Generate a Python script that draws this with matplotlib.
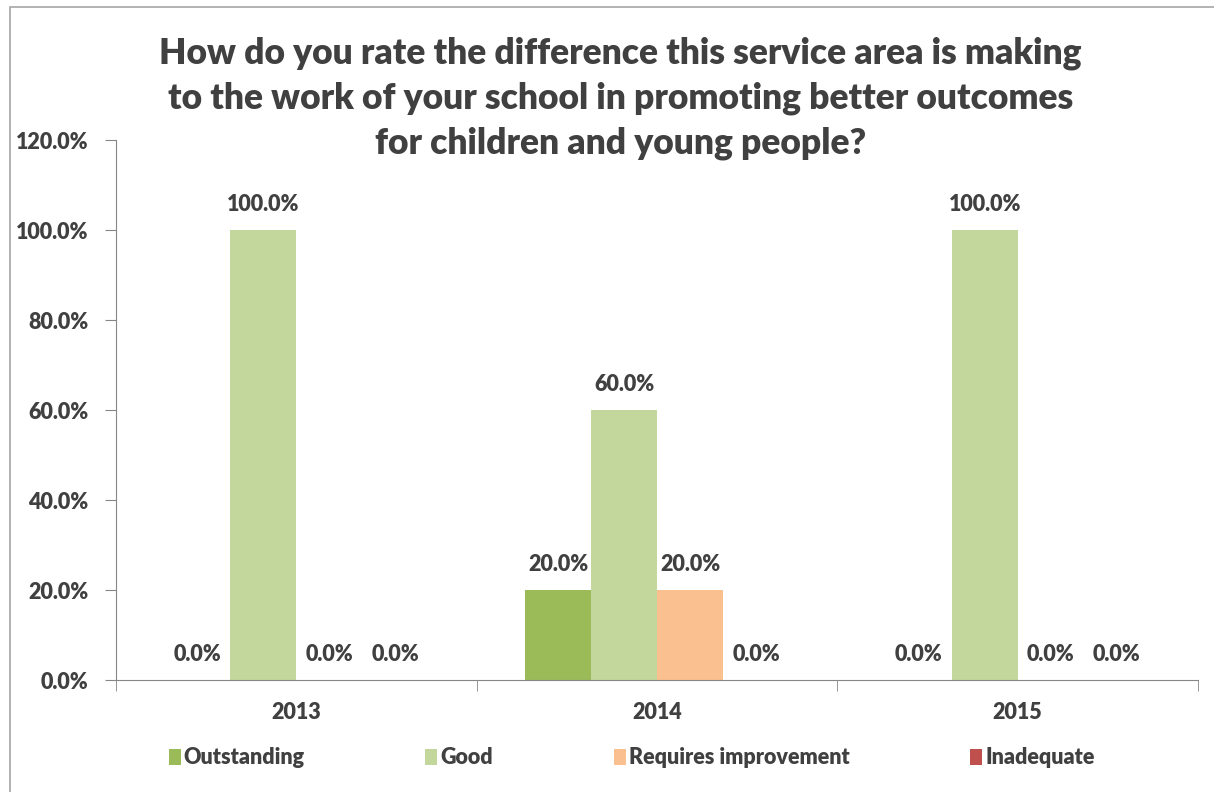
import numpy as np
import matplotlib.pyplot as plt
from matplotlib.patches import Patch, Rectangle

# survey results per year, share of responses
years = ["2013", "2014", "2015"]
ratings = ["Outstanding", "Good", "Requires improvement", "Inadequate"]
outstanding = [0.0, 20.0, 0.0]
good = [100.0, 60.0, 100.0]
requires_improvement = [0.0, 20.0, 0.0]
inadequate = [0.0, 0.0, 0.0]
series = [outstanding, good, requires_improvement, inadequate]
colors = ["#9BBB59", "#C3D69B", "#FAC090", "#C0504D"]

title = ("How do you rate the difference this service area is making\n"
         "to the work of your school in promoting better outcomes\n"
         "for children and young people?")

txt = "#404040"
axis_gray = "#868686"
fs = 15.5
plt.rcParams['font.family'] = ['Lato', 'DejaVu Sans']
plt.rcParams['font.weight'] = 'bold'

fig = plt.figure(figsize=(12.14, 7.92), dpi=100)
ax = fig.add_axes([0.0956, 0.1414, 0.8912, 0.6818])

# chart frame
fig.patches.append(Rectangle((10 / 1214, -0.01), 1.05, 1 - 7 / 792 + 0.01,
                             transform=fig.transFigure, fill=False,
                             edgecolor="#A6A6A6", linewidth=1.2))

x = np.arange(len(years))
width = 0.183
offsets = (np.arange(len(series)) - 1.5) * width
for vals, col, off in zip(series, colors, offsets):
    bars = ax.bar(x + off, vals, width, color=col)
    for b, v in zip(bars, vals):
        ax.annotate(f"{v:.1f}%", (b.get_x() + b.get_width() / 2, v),
                    xytext=(0, 15), textcoords="offset pixels",
                    ha="center", va="bottom", fontsize=fs,
                    fontweight="heavy", color=txt)

ax.set_xlim(-0.5, len(years) - 0.5)
ax.set_ylim(0, 120)
ax.set_yticks(np.arange(0, 121, 20))
ax.set_yticklabels([f"{v:.1f}%" for v in np.arange(0, 121, 20)])
ax.set_xticks(x)
ax.set_xticklabels(years)
ax.set_xticks(np.arange(-0.5, len(years), 1), minor=True)
ax.tick_params(axis="x", which="major", length=0, pad=16,
               labelsize=fs, labelcolor=txt)
ax.tick_params(axis="x", which="minor", length=8, color=axis_gray)
ax.tick_params(axis="y", length=8, color=axis_gray, pad=12,
               labelsize=fs, labelcolor=txt)
for lbl in ax.get_xticklabels() + ax.get_yticklabels():
    lbl.set_fontweight("heavy")

for s in ["top", "right"]:
    ax.spines[s].set_visible(False)
for s in ["left", "bottom"]:
    ax.spines[s].set_color(axis_gray)

fig.text(0.511, 1 - 37 / 792, title, ha="center", va="top", fontsize=25.5,
         fontweight="heavy", color=txt, linespacing=1.42)

# legend entries spread across the bottom
legend_x = [0.139, 0.350, 0.506, 0.799]
for name, col, lx in zip(ratings, colors, legend_x):
    leg = fig.legend(handles=[Patch(facecolor=col, label=name)],
                     loc="center left", bbox_to_anchor=(lx, 0.043),
                     frameon=False, handlelength=0.55, handleheight=0.75,
                     handletextpad=0.15, borderaxespad=0, borderpad=0,
                     prop={"size": fs, "weight": "heavy"})
    for t in leg.get_texts():
        t.set_color(txt)

fig.savefig("out.png", dpi=100)
